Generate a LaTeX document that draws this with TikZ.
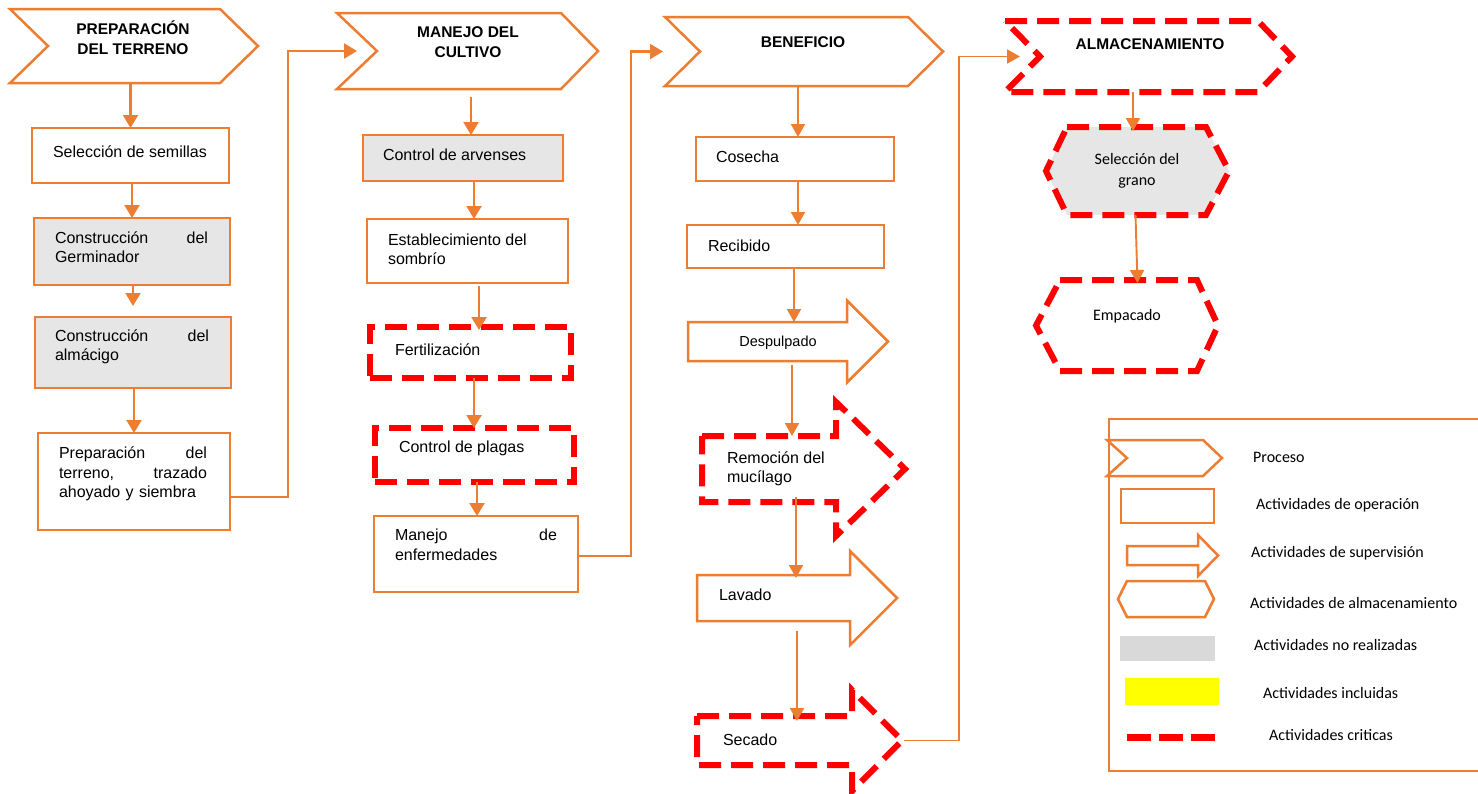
\documentclass[tikz,border=0pt]{standalone}
\usepackage{fontspec}
\setmainfont{Liberation Sans}
\newfontfamily\calib{Carlito}
\usetikzlibrary{arrows.meta,calc}
\definecolor{orng}{HTML}{ED7D31}
\definecolor{critred}{HTML}{FF0000}
\definecolor{nogray}{HTML}{E7E6E6}
\definecolor{leggray}{HTML}{D9D9D9}
\definecolor{legyel}{HTML}{FFFF00}
% outline helpers: node name, tip/head depth, notch/extra, style
\newcommand{\chevoutline}[4]{%
  \draw[#4] (#1.north west) -- (#1.north east) -- ([xshift=#2]#1.east) -- (#1.south east) -- (#1.south west) -- ([xshift=#3]#1.west) -- cycle;}
\newcommand{\arrowoutline}[4]{%
  \draw[#4] (#1.north west) -- (#1.north east) -- ([yshift=#3]#1.north east) -- ([xshift=#2]#1.east) -- ([yshift=-#3]#1.south east) -- (#1.south east) -- (#1.south west) -- cycle;}
\newcommand{\hexoutline}[4]{%
  \draw[#4] (#1.north west) -- (#1.north east) -- ([xshift=#3]#1.east) -- (#1.south east) -- (#1.south west) -- ([xshift=-#2]#1.west) -- cycle;}
\begin{document}
\begin{tikzpicture}[x=1pt,y=-1pt,
  geo/.style={rectangle, inner sep=0pt, outer sep=0pt},
  obox/.style={geo, draw=orng, line width=2.5pt},
  cbox/.style={geo, draw=critred, line width=6pt, dash pattern=on 22pt off 10pt},
  ostroke/.style={draw=orng, line width=2.5pt, line join=miter},
  cstroke/.style={draw=critred, line width=6pt, dash pattern=on 22pt off 10pt},
  txt/.style={inner sep=0pt, outer sep=0pt, anchor=west, align=left, font=\fontsize{16}{19.5}\selectfont},
  hd/.style={inner sep=0pt, align=center, font=\fontsize{15.5}{20}\selectfont\bfseries},
  ctxt/.style={inner sep=0pt, align=center, font=\calib\fontsize{16}{21}\selectfont},
  ltxt/.style={inner sep=0pt, anchor=west, font=\calib\fontsize{16}{19}\selectfont},
  arr/.style={draw=orng, line width=2.2pt, -{Triangle[width=15pt,length=13pt]}},
  arrthin/.style={draw=orng, line width=1.9pt, -{Triangle[width=14pt,length=13pt]}},
]
\useasboundingbox (0,0) rectangle (1478,793);

% ---------- Column 1: PREPARACION DEL TERRENO ----------
\node[geo, minimum width=210pt, minimum height=74pt] (chA) at (115,46) {};
\chevoutline{chA}{38pt}{38pt}{ostroke}
\node[hd] (hdA) at (133,38) {PREPARACIÓN\\DEL TERRENO};

\node[obox, minimum width=197pt, minimum height=55pt] (sel) at (130.5,155.5) {};
\node[txt] (selt) at (53,152) {Selección de semillas};

\node[obox, fill=nogray, minimum width=196pt, minimum height=67pt] (germ) at (132,251.5) {};
\node[txt, text width=153pt] (germt) at (55,247) {Construcción\hfill del\\Germinador};

\node[obox, fill=nogray, minimum width=196pt, minimum height=71pt] (alm) at (133,352.5) {};
\node[txt, text width=154pt] (almt) at (55,347) {Construcción\hfill del\\almácigo};

\node[obox, minimum width=192pt, minimum height=97pt] (prep) at (134,481.5) {};
\node[txt, text width=148pt] (prept) at (59,474) {Preparación\hfill del\\terreno,\hfill trazado\\ahoyado y siembra};

% ---------- Column 2: MANEJO DEL CULTIVO ----------
\node[geo, minimum width=224pt, minimum height=76pt] (chB) at (449,51) {};
\chevoutline{chB}{37pt}{40pt}{ostroke}
\node[hd] (hdB) at (468,42) {MANEJO DEL\\CULTIVO};

\node[obox, fill=nogray, minimum width=200pt, minimum height=46pt] (arv) at (463,158) {};
\node[txt] (arvt) at (383,155) {Control de arvenses};

\node[obox, minimum width=201pt, minimum height=64pt] (est) at (467.5,251) {};
\node[txt] (estt) at (388,249.5) {Establecimiento del\\sombrío};

\node[cbox, minimum width=201pt, minimum height=51pt] (fert) at (470.5,352.5) {};
\node[txt] (fertt) at (395,350) {Fertilización};

\node[cbox, minimum width=199pt, minimum height=54pt] (plag) at (474.5,455) {};
\node[txt] (plagt) at (399,448) {Control de plagas};

\node[obox, minimum width=204pt, minimum height=76pt] (enf) at (476,554) {};
\node[txt, text width=162pt] (enft) at (395,545) {Manejo\hfill de\\enfermedades};

% ---------- Column 3: BENEFICIO ----------
\node[geo, minimum width=243pt, minimum height=69pt] (chC) at (786.5,51.5) {};
\chevoutline{chC}{35pt}{35pt}{ostroke}
\node[hd] (hdC) at (803,42) {BENEFICIO};

\node[obox, minimum width=198pt, minimum height=44pt] (cos) at (795,159) {};
\node[txt] (cost) at (716,157) {Cosecha};

\node[obox, minimum width=197pt, minimum height=43pt] (rec) at (785.5,246.5) {};
\node[txt] (rect) at (708,246) {Recibido};

\node[geo, minimum width=159pt, minimum height=39pt] (desp) at (767.5,341.5) {};
\arrowoutline{desp}{41pt}{21.5pt}{ostroke}
\node[inner sep=0pt, font=\fontsize{14.5}{17}\selectfont] (despt) at (778,343) {Despulpado};

\node[geo, minimum width=134pt, minimum height=66pt] (rem) at (769,469) {};
\arrowoutline{rem}{69pt}{34pt}{cstroke}
\node[txt] (remt) at (727,469) {Remoción del\\mucílago};

\node[geo, minimum width=153pt, minimum height=46pt] (lav) at (773.5,598) {};
\arrowoutline{lav}{47pt}{24pt}{ostroke}
\node[txt] (lavt) at (719,595) {Lavado};

\node[geo, minimum width=155pt, minimum height=49pt] (sec) at (774.5,740.5) {};
\arrowoutline{sec}{50pt}{26pt}{cstroke}
\node[txt] (sect) at (723,740) {Secado};

% ---------- Column 4: ALMACENAMIENTO ----------
\node[geo, minimum width=253pt, minimum height=71pt] (chD) at (1131.5,56.5) {};
\chevoutline{chD}{34pt}{35pt}{cstroke}
\node[hd] (hdD) at (1150,44) {ALMACENAMIENTO};

\node[geo, minimum width=139pt, minimum height=88pt] (hx1) at (1136.5,171) {};
\hexoutline{hx1}{21pt}{23pt}{cstroke, fill=nogray}
\node[ctxt] (hx1t) at (1137,171) {Selección del\\grano};

\node[geo, minimum width=137pt, minimum height=91pt] (hx2) at (1128.5,325.5) {};
\hexoutline{hx2}{24pt}{21pt}{cstroke}
\node[ctxt] (hx2t) at (1127,316) {Empacado};

% ---------- Legend ----------
\node[obox, minimum width=386pt, minimum height=352pt] (legbox) at (1302,595) {};

\node[geo, minimum width=96pt, minimum height=36pt] (lgchev) at (1155,458) {};
\chevoutline{lgchev}{19pt}{20pt}{ostroke}
\node[ltxt] (lgchevt) at (1253,457) {Proceso};

\node[obox, minimum width=93pt, minimum height=34pt] (lgrect) at (1167.5,506) {};
\node[ltxt] (lgrectt) at (1256,505) {Actividades de operación};

\node[geo, minimum width=71pt, minimum height=19pt] (lgarr) at (1162.5,555.5) {};
\arrowoutline{lgarr}{20pt}{11pt}{ostroke}
\node[ltxt] (lgarrt) at (1251,553) {Actividades de supervisión};

\node[geo, minimum width=78pt, minimum height=36pt] (lghex) at (1166,599) {};
\hexoutline{lghex}{9pt}{9pt}{ostroke}
\node[ltxt] (lghext) at (1250,603) {Actividades de almacenamiento};

\node[geo, fill=leggray, minimum width=95pt, minimum height=25pt] (lggray) at (1167.5,648.5) {};
\node[ltxt] (lggrayt) at (1254,645) {Actividades no realizadas};

\node[geo, fill=legyel, minimum width=94pt, minimum height=27pt] (lgyel) at (1172,691.5) {};
\node[ltxt] (lgyelt) at (1263,693) {Actividades incluidas};

\coordinate (lgdA) at (1127,737);
\coordinate (lgdB) at (1215,737);
\draw[draw=critred, line width=7pt, dash pattern=on 24pt off 8pt] (lgdA) -- (lgdB);
\node[ltxt] (lgdasht) at (1269,735) {Actividades criticas};

% ---------- Vertical arrows ----------
\draw[arr] (sel.north |- chA.south) -- (sel.north);
\draw[arr] (germ.north |- sel.south) -- (germ.north);
\draw[arr, shorten >=11pt] (alm.north |- germ.south) -- (alm.north);
\draw[arr] (prep.north |- alm.south) -- (prep.north);

\coordinate (b1) at ([xshift=8pt]arv.north);
\coordinate (b2) at ([xshift=6.5pt]est.north);
\coordinate (b3) at ([xshift=8.5pt,yshift=-3pt]fert.north);
\coordinate (b4) at ([xshift=-0.5pt]plag.north);
\coordinate (b5) at ([xshift=1pt]enf.north);
\draw[arr, shorten <=8pt] (b1 |- chB.south) -- (b1);
\draw[arr] (b2 |- arv.south) -- (b2);
\draw[arr, shorten <=3pt] (b3 |- est.south) -- (b3);
\draw[arr] (b4 |- fert.south) -- (b4);
\draw[arr] (b5 |- plag.south) -- (b5);

\coordinate (c1) at ([xshift=3pt]cos.north);
\coordinate (c2) at ([xshift=12.5pt]rec.north);
\coordinate (c3) at ([xshift=26.5pt]desp.north);
\coordinate (c4) at ([xshift=23pt]rem.north);
\coordinate (c5s) at ([xshift=27pt,yshift=5pt]rem.south);
\coordinate (c5e) at ([xshift=22.5pt,yshift=-3pt]lav.north);
\coordinate (c6s) at ([xshift=23.5pt,yshift=-10pt]lav.south);
\coordinate (c6e) at ([xshift=22.5pt,yshift=-5pt]sec.north);
\draw[arrthin] (c1 |- chC.south) -- (c1);
\draw[arrthin] (c2 |- cos.south) -- (c2);
\draw[arrthin] (c3 |- rec.south) -- (c3);
\draw[arrthin, shorten <=4pt] (c4 |- desp.south) -- (c4);
\draw[arrthin] (c5s) -- (c5e);
\draw[arrthin] (c6s) -- (c6e);

\coordinate (d1) at ([xshift=-3.5pt,yshift=-4pt]hx1.north);
\coordinate (d2) at ([xshift=9pt,yshift=-3pt]hx2.north);
\draw[arrthin] (d1 |- chD.south) -- (d1);
\draw[arrthin] ([xshift=-2pt]d2 |- hx1.south) -- (d2);

% ---------- Connectors between processes ----------
\draw[arr] ([yshift=-15.5pt]prep.east) -- ++(58,0) |- ([xshift=20pt]chB.west);
\draw[arr] ([yshift=-2pt]enf.east) -- ++(53,0) |- ([xshift=-2pt]chC.west);
\draw[arrthin] ([xshift=52pt]sec.east) -- ++(55,0) |- ([xshift=15pt]chD.west);
\end{tikzpicture}
\end{document}
